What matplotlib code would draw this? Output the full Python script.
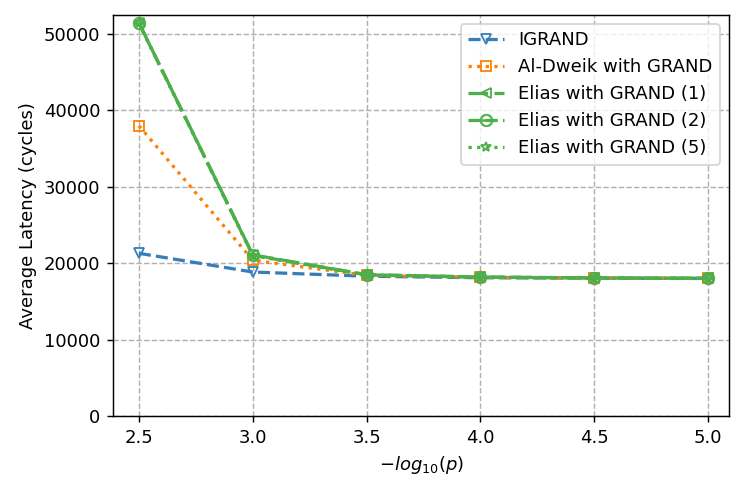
import matplotlib
matplotlib.use("Agg")
import matplotlib.pyplot as plt

x = [2.5, 3.0, 3.5, 4.0, 4.5, 5.0]
igrand = [21300, 18850, 18300, 18100, 18050, 18000]
aldweik = [38000, 20400, 18400, 18150, 18080, 18030]
elias1 = [51450, 21100, 18500, 18200, 18080, 18030]
elias2 = [51450, 21050, 18480, 18180, 18070, 18030]
elias5 = [51400, 21000, 18450, 18170, 18060, 18020]

blue = "#377eb8"
orange = "#ff7f00"
green = "#4daf4a"

plt.rcParams["font.family"] = "DejaVu Sans"
plt.rcParams["font.size"] = 10
DPI = 130
fig, ax = plt.subplots(figsize=(731 / DPI, 477 / DPI), dpi=DPI)

LW = 1.8
ax.plot(x, igrand, linestyle="--", color=blue, lw=LW, marker="v",
        ms=6, mfc="none", mew=1.0, label="IGRAND")
ax.plot(x, aldweik, linestyle=":", color=orange, lw=LW, marker="s",
        ms=6, mfc="none", mew=1.0, label="Al-Dweik with GRAND")
ax.plot(x, elias1, linestyle=(0, (6, 2)), color=green, lw=LW, marker="<",
        ms=6, mfc="none", mew=1.0, label="Elias with GRAND (1)")
ax.plot(x, elias2, linestyle="--", color=green, lw=LW, marker=r"$\ominus$",
        ms=7, mew=0.4, label="Elias with GRAND (2)")
ax.plot(x, elias5, linestyle=":", color=green, lw=LW, marker="*",
        ms=6, mfc="none", mew=1.0, label="Elias with GRAND (5)")

ax.set_xlim(2.386, 5.092)
ax.set_ylim(0, 52500)
ax.set_xticks(x)
ax.set_yticks([0, 10000, 20000, 30000, 40000, 50000])
ax.grid(True, linestyle="--", color="#b0b0b0", lw=0.8)
ax.set_xlabel(r"$-log_{10}(p)$")
ax.set_ylabel("Average Latency (cycles)")
ax.legend(loc="upper right")

fig.subplots_adjust(left=113 / 731, right=729 / 731, top=1 - 15 / 477, bottom=1 - 416 / 477)
fig.savefig("out.png", dpi=DPI)
